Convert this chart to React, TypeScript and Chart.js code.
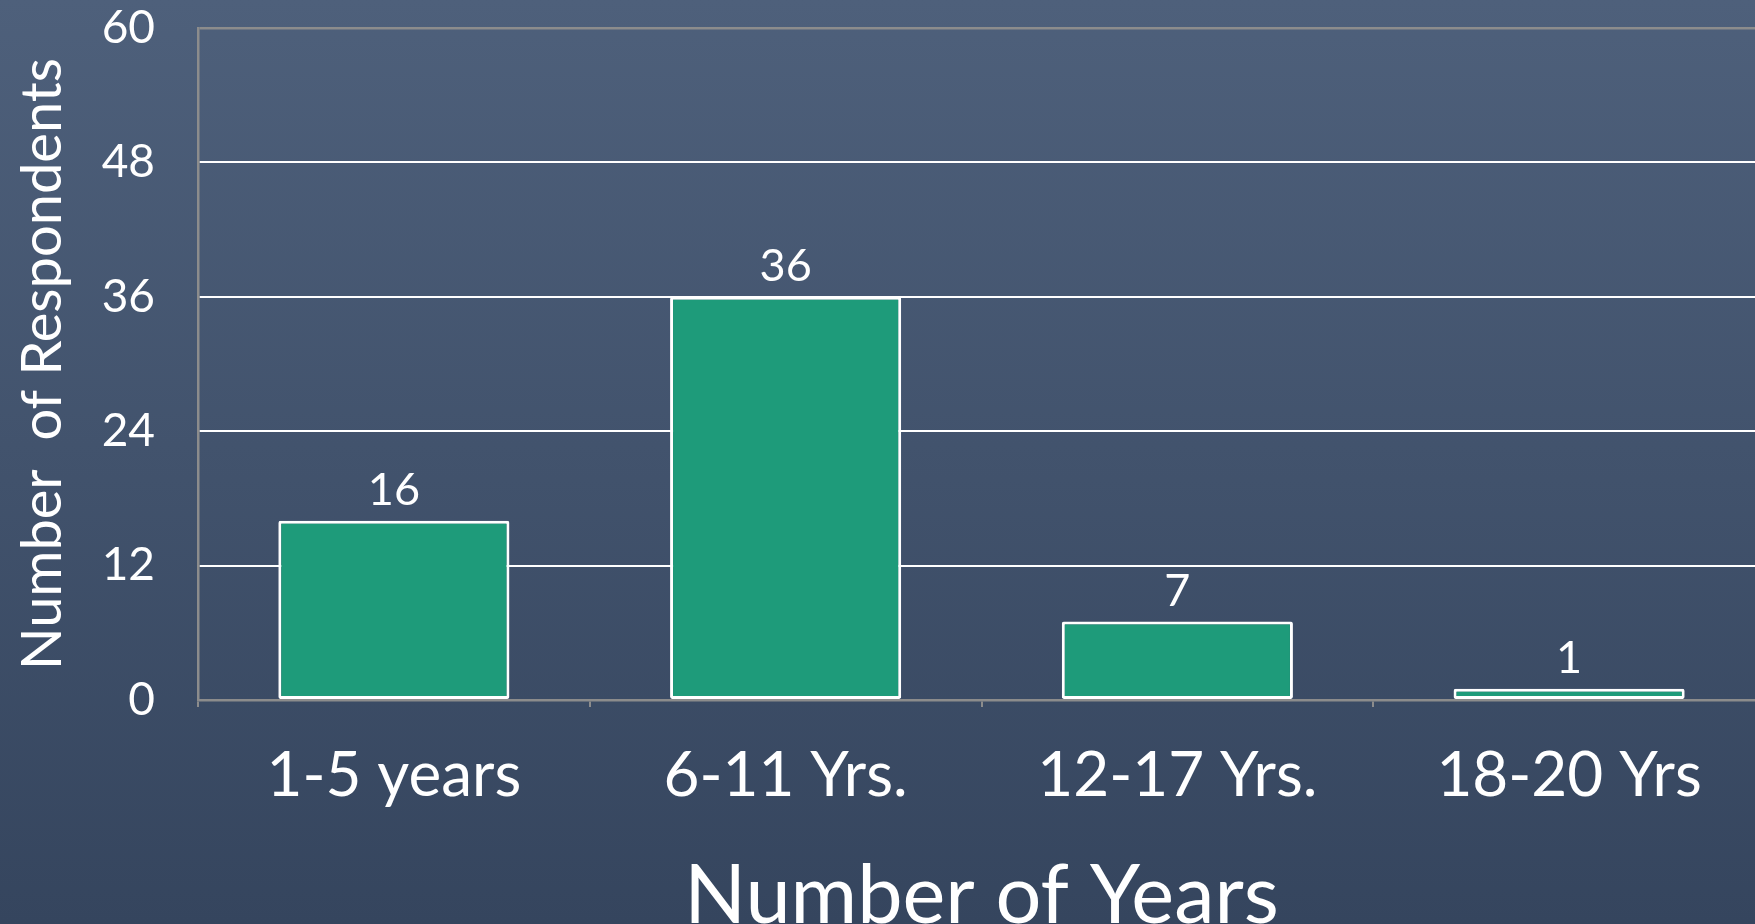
import React, { useEffect, useRef } from "react";
import { Chart, registerables } from "chart.js";

Chart.register(...registerables);

const categories = ["1-5 years", "6-11 Yrs.", "12-17 Yrs.", "18-20 Yrs"];
const respondents = [16, 36, 7, 1];
const yTicks = [0, 12, 24, 36, 48, 60];
const xTitle = "Number of Years";
const yTitle = "Number  of Respondents";

const FONT = "Lato, 'Open Sans', sans-serif";
const GRAY = "#8c8c8c";

const valueLabels = {
  id: "valueLabels",
  afterDatasetsDraw(chart: any) {
    const ctx = chart.ctx;
    const meta = chart.getDatasetMeta(0);
    ctx.save();
    ctx.fillStyle = "#ffffff";
    ctx.font = `45px ${FONT}`;
    ctx.textAlign = "center";
    ctx.textBaseline = "alphabetic";
    meta.data.forEach((bar: any, i: number) => {
      ctx.fillText(String(chart.data.datasets[0].data[i]), bar.x, bar.y - 16);
    });
    ctx.restore();
  },
};

export default function App() {
  const ref = useRef<HTMLCanvasElement | null>(null);
  useEffect(() => {
    if (!ref.current) return;
    const chart = new Chart(ref.current, {
      type: "bar",
      data: {
        labels: categories,
        datasets: [
          {
            data: respondents,
            backgroundColor: "#1e9b7a",
            borderColor: "#ffffff",
            borderWidth: 3,
            borderSkipped: false,
            borderRadius: 2,
            categoryPercentage: 1,
            barPercentage: 0.59,
          },
        ],
      },
      options: {
        animation: false,
        responsive: false,
        maintainAspectRatio: false,
        layout: { padding: { top: 28, right: 10, left: 0, bottom: 0 } },
        plugins: { legend: { display: false }, tooltip: { enabled: false } },
        scales: {
          x: {
            afterFit(scale: any) {
              scale.height = 260;
            },
            grid: {
              drawOnChartArea: false,
              drawTicks: true,
              tickLength: 7,
              color: GRAY,
              lineWidth: 2,
            },
            border: { color: GRAY, width: 2.5 },
            ticks: {
              color: "#ffffff",
              font: { family: FONT, size: 62 },
              padding: 32,
              maxRotation: 0,
              autoSkip: false,
            },
            title: {
              display: true,
              text: xTitle,
              color: "#ffffff",
              font: { family: FONT, size: 81 },
              padding: { top: 0, bottom: 15 },
            },
          },
          y: {
            min: 0,
            max: 60,
            afterFit(scale: any) {
              scale.width = 198;
              scale.paddingTop = 0;
              scale.paddingBottom = 0;
            },
            afterBuildTicks(scale: any) {
              scale.ticks = yTicks.map((v) => ({ value: v }));
            },
            grid: {
              drawTicks: false,
              color: (c: any) =>
                c.tick && (c.tick.value === 60 || c.tick.value === 0) ? GRAY : "#ffffff",
              lineWidth: (c: any) => (c.tick && c.tick.value === 60 ? 2.5 : 2),
            },
            border: { color: GRAY, width: 2.5 },
            ticks: {
              color: "#ffffff",
              font: { family: FONT, size: 46 },
              padding: 43,
            },
            title: {
              display: true,
              text: yTitle,
              color: "#ffffff",
              font: { family: FONT, size: 56 },
              padding: { top: 9, bottom: 0 },
            },
          },
        },
      },
      plugins: [valueLabels],
    });
    return () => chart.destroy();
  }, []);

  return (
    <div
      style={{
        position: "fixed",
        left: 0,
        top: 0,
        width: 1755,
        height: 924,
        overflow: "hidden",
        background: "linear-gradient(to bottom, #4e607b 0%, #35455e 100%)",
      }}
    >
      <canvas
        ref={ref}
        width={1775}
        height={960}
        style={{ display: "block", width: 1775, height: 960 }}
      />
    </div>
  );
}
